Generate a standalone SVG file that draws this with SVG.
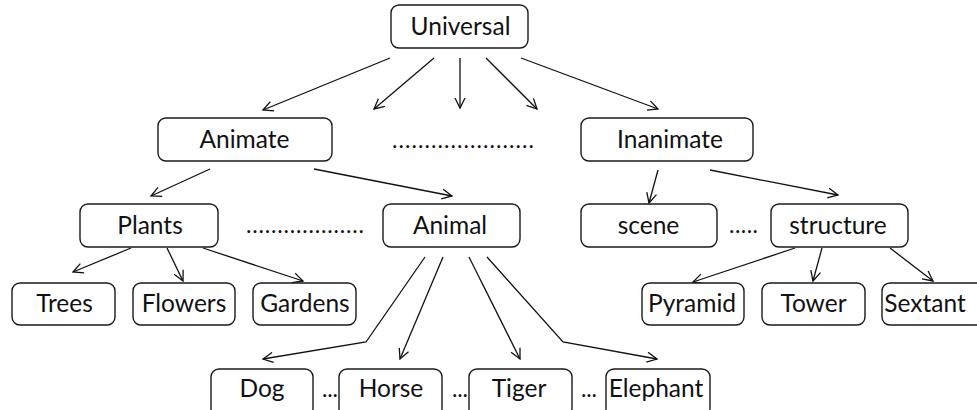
<svg xmlns="http://www.w3.org/2000/svg" width="977" height="410" viewBox="0 0 977 410">
  <style>
    .box { fill: #ffffff; stroke: #1a1a1a; stroke-width: 1.4; }
    .lbl { font-family: Lato, "Liberation Sans", sans-serif; font-size: 24.5px; fill: #111111; text-anchor: middle; }
    .dots { font-family: Lato, "Liberation Sans", sans-serif; font-size: 23px; fill: #111111; }
    .edge { fill: none; stroke: #111111; stroke-width: 1.3; marker-end: url(#arrow); }
  </style>
  <defs>
    <marker id="arrow" markerUnits="userSpaceOnUse" markerWidth="14" markerHeight="14" refX="11" refY="6" orient="auto">
      <path d="M1,1 L11,6 L1,11" fill="none" stroke="#111111" stroke-width="1.3"/>
    </marker>
  </defs>
  <rect width="977" height="410" fill="#ffffff"/>

  <g id="connectors">
    <line class="edge" x1="390" y1="58" x2="263" y2="110"/>
    <line class="edge" x1="434" y1="58" x2="374" y2="109"/>
    <line class="edge" x1="460" y1="58" x2="460" y2="108"/>
    <line class="edge" x1="486" y1="58" x2="537" y2="109"/>
    <line class="edge" x1="521" y1="58" x2="658" y2="109"/>
    <line class="edge" x1="210" y1="169" x2="151" y2="196"/>
    <line class="edge" x1="314" y1="169" x2="452" y2="196"/>
    <line class="edge" x1="658" y1="170" x2="649" y2="203"/>
    <line class="edge" x1="710" y1="170" x2="838" y2="195"/>
    <line class="edge" x1="131" y1="248" x2="73" y2="272"/>
    <line class="edge" x1="167" y1="248" x2="183" y2="281"/>
    <line class="edge" x1="203" y1="248" x2="303" y2="281"/>
    <polyline class="edge" points="425,257 366,342 263,359"/>
    <line class="edge" x1="443" y1="257" x2="400" y2="359"/>
    <line class="edge" x1="469" y1="257" x2="520" y2="359"/>
    <polyline class="edge" points="487,257 563,342 657,359"/>
    <line class="edge" x1="795" y1="248" x2="693" y2="282"/>
    <line class="edge" x1="822" y1="248" x2="813" y2="281"/>
    <line class="edge" x1="890" y1="248" x2="933" y2="281"/>
  </g>

  <g id="universal"><rect class="box" x="391" y="5" width="137" height="43" rx="8"/><text class="lbl" x="460.5" y="35">Universal</text></g>
  <g id="animate"><rect class="box" x="158" y="118" width="174" height="43" rx="8"/><text class="lbl" x="244.5" y="148">Animate</text></g>
  <g id="inanimate"><rect class="box" x="581" y="118" width="172" height="43" rx="8"/><text class="lbl" x="670" y="148">Inanimate</text></g>
  <g id="plants"><rect class="box" x="80" y="204" width="138" height="43" rx="8"/><text class="lbl" x="150" y="234">Plants</text></g>
  <g id="animal"><rect class="box" x="383" y="204" width="137" height="43" rx="8"/><text class="lbl" x="450" y="234">Animal</text></g>
  <g id="scene"><rect class="box" x="581" y="204" width="136" height="43" rx="8"/><text class="lbl" x="648.5" y="234">scene</text></g>
  <g id="structure"><rect class="box" x="771" y="204" width="137" height="43" rx="8"/><text class="lbl" x="838" y="234">structure</text></g>
  <g id="trees"><rect class="box" x="12" y="283" width="103" height="42" rx="8"/><text class="lbl" x="64.5" y="312">Trees</text></g>
  <g id="flowers"><rect class="box" x="133" y="283" width="102" height="42" rx="8"/><text class="lbl" x="184" y="312">Flowers</text></g>
  <g id="gardens"><rect class="box" x="253" y="283" width="103" height="42" rx="8"/><text class="lbl" x="305" y="312">Gardens</text></g>
  <g id="pyramid"><rect class="box" x="642" y="283" width="102" height="42" rx="8"/><text class="lbl" x="692" y="312">Pyramid</text></g>
  <g id="tower"><rect class="box" x="762" y="283" width="103" height="42" rx="8"/><text class="lbl" x="813.5" y="312">Tower</text></g>
  <g id="sextant"><rect class="box" x="882" y="283" width="102" height="42" rx="8"/><text class="lbl" x="925" y="312">Sextant</text></g>
  <g id="dog"><rect class="box" x="211" y="369" width="102" height="48" rx="8"/><text class="lbl" x="262" y="397">Dog</text></g>
  <g id="horse"><rect class="box" x="339" y="369" width="103" height="48" rx="8"/><text class="lbl" x="391" y="397">Horse</text></g>
  <g id="tiger"><rect class="box" x="469" y="369" width="103" height="48" rx="8"/><text class="lbl" x="519" y="397">Tiger</text></g>
  <g id="elephant"><rect class="box" x="606" y="369" width="104" height="48" rx="8"/><text class="lbl" x="656" y="397">Elephant</text></g>

  <g id="ellipses">
    <text class="dots" x="392" y="148" textLength="142" lengthAdjust="spacing">......................</text>
    <text class="dots" x="246" y="233" textLength="118" lengthAdjust="spacing">...................</text>
    <text class="dots" x="729" y="233" textLength="29" lengthAdjust="spacing">.....</text>
    <text class="dots" x="322" y="397" textLength="16" lengthAdjust="spacing">...</text>
    <text class="dots" x="452" y="397" textLength="16" lengthAdjust="spacing">...</text>
    <text class="dots" x="581" y="397" textLength="16" lengthAdjust="spacing">...</text>
  </g>
</svg>
